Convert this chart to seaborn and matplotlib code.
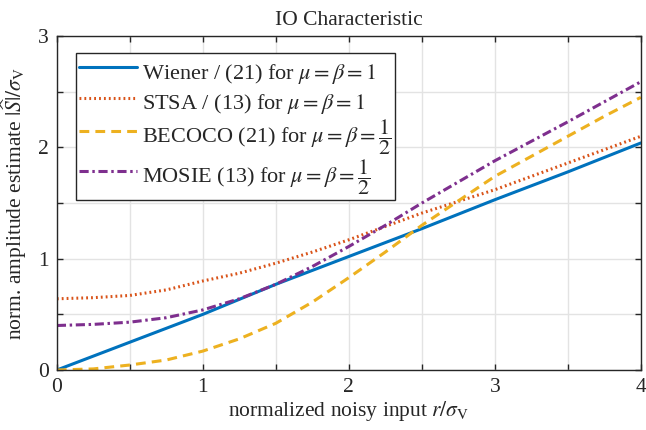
import matplotlib
matplotlib.use("Agg")
import matplotlib.pyplot as plt
import seaborn as sns
import pandas as pd
from matplotlib.ticker import MultipleLocator, FuncFormatter

r = [0, 0.25, 0.5, 0.75, 1, 1.25, 1.5, 1.75, 2, 2.25, 2.5, 2.75, 3, 3.25, 3.5, 3.75, 4]
wiener = [0, 0.125, 0.25, 0.375, 0.50, 0.635, 0.77, 0.895, 1.02, 1.145, 1.27, 1.40, 1.53, 1.655, 1.78, 1.91, 2.04]
stsa = [0.64, 0.65, 0.67, 0.72, 0.80, 0.87, 0.96, 1.06, 1.17, 1.29, 1.41, 1.515, 1.62, 1.74, 1.86, 1.98, 2.10]
becoco = [0, 0.01, 0.045, 0.09, 0.17, 0.28, 0.42, 0.61, 0.83, 1.06, 1.30, 1.52, 1.74, 1.92, 2.10, 2.28, 2.45]
mosie = [0.40, 0.41, 0.43, 0.47, 0.54, 0.64, 0.77, 0.93, 1.11, 1.30, 1.50, 1.69, 1.88, 2.055, 2.23, 2.41, 2.59]

labels = [
    r"Wiener / (21) for $\mu = \beta = 1$",
    r"STSA / (13) for $\mu = \beta = 1$",
    r"BECOCO (21) for $\mu = \beta = \dfrac{1}{2}$",
    r"MOSIE (13) for $\mu = \beta = \dfrac{1}{2}$",
]
series = [wiener, stsa, becoco, mosie]
colors = ["#0072BD", "#D95319", "#EDB120", "#7E2F8E"]
styles = ["-", (0, (0.6, 1.0)), (0, (3.2, 2.0)), (0, (3.0, 1.2, 0.8, 1.2))]

sns.set_theme(style="whitegrid")
plt.rcParams['font.family'] = ['Liberation Serif', 'DejaVu Serif']
plt.rcParams['mathtext.fontset'] = 'stix'

FS = 15.5
fig = plt.figure(figsize=(6.46, 4.30), dpi=100)
ax = fig.add_axes([0.088, 0.1395, 0.904, 0.7765])

for lab, vals, c, ls in zip(labels, series, colors, styles):
    df = pd.DataFrame({"r": r, "v": vals})
    sns.lineplot(data=df, x="r", y="v", ax=ax, color=c, linestyle=ls, lw=2.2, label=lab)

ax.set_xlim(0, 4)
ax.set_ylim(0, 3)
ax.xaxis.set_major_locator(MultipleLocator(0.5))
ax.yaxis.set_major_locator(MultipleLocator(0.5))
fmt = FuncFormatter(lambda v, p: f"{int(round(v))}" if abs(v - round(v)) < 1e-6 else "")
ax.xaxis.set_major_formatter(fmt)
ax.yaxis.set_major_formatter(fmt)
ax.grid(True, color="#e3e3e3", lw=1.0)
ax.set_axisbelow(True)
ax.set_facecolor("white")
for s in ax.spines.values():
    s.set_color("#262626")
    s.set_linewidth(1.0)
    s.set_visible(True)
ax.tick_params(direction="in", length=4, width=1, color="#262626", top=True, right=True,
               bottom=True, left=True, labelsize=FS, labelcolor="#262626", pad=6)

ax.set_xlabel(r"normalized noisy input $r/\sigma_{\mathrm{V}}$", fontsize=FS, color="#262626", labelpad=1)
ax.set_ylabel(r"norm. amplitude estimate $|\widehat{S}|/\sigma_{\mathrm{V}}$", fontsize=FS, color="#262626", labelpad=6)
ax.set_title("IO Characteristic", fontsize=FS, color="#262626", pad=8)

leg = ax.legend(loc="upper left", bbox_to_anchor=(0.0325, 0.95), borderaxespad=0, fontsize=16,
                frameon=True, fancybox=False, edgecolor="#262626", framealpha=1, handlelength=2.6,
                handleheight=1.72, borderpad=0.15, labelspacing=0.0, handletextpad=0.25)
leg.get_frame().set_linewidth(1.0)
for t in leg.get_texts():
    t.set_color("#262626")

fig.savefig("out.png", dpi=100)
